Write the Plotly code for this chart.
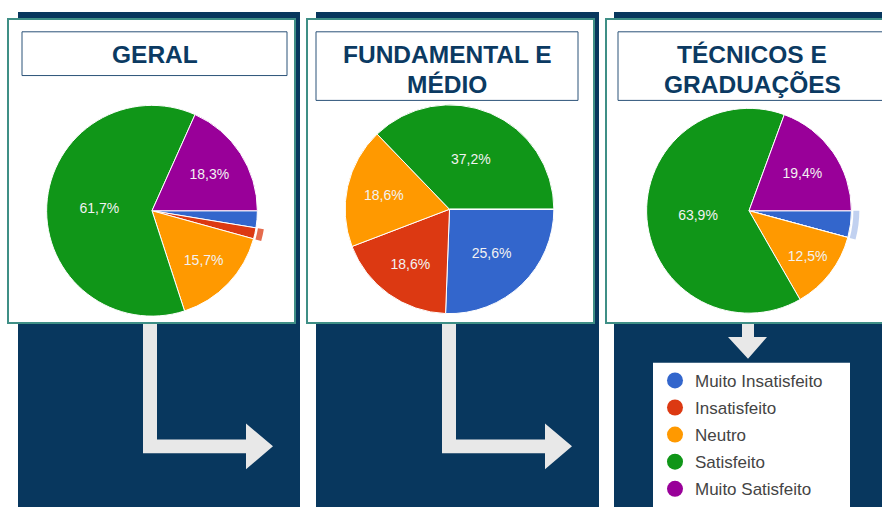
import plotly.graph_objects as go

W, H = 882, 507

categories = ["Muito Insatisfeito", "Insatisfeito", "Neutro", "Satisfeito", "Muito Satisfeito"]
colors = ["#3366cc", "#dc3912", "#ff9900", "#109618", "#990099"]

geral = [2.6, 1.7, 15.7, 61.7, 18.3]
fundamental_medio = [25.6, 18.6, 18.6, 37.2, 0.0]
tecnicos_graduacoes = [4.2, 0.0, 12.5, 63.9, 19.4]

title_lines = [["GERAL"], ["FUNDAMENTAL E", "MÉDIO"], ["TÉCNICOS E", "GRADUAÇÕES"]]

NAVY = "#08375e"
TEAL = "#3f8f86"
ARROW = "#e8e8e8"


def px(x):
    return x / W


def py(y):
    return 1 - y / H


def fmt(v):
    return (f"{v:.1f}%".replace(".", ",")) if v >= 5 else ""


def domain(cx, cy, r):
    return dict(x=[px(cx - r), px(cx + r)], y=[py(cy + r), py(cy - r)])


fig = go.Figure()

pies = [
    (geral, 152, 212, 106, 1, "rgba(220,57,18,0.75)"),
    (fundamental_medio, 449.5, 210.5, 105, None, None),
    (tecnicos_graduacoes, 749, 212, 103, 0, "rgba(51,102,204,0.3)"),
]

for vals, cx, cy, r, hl, hlcol in pies:
    fig.add_trace(go.Pie(
        labels=categories, values=vals, sort=False, direction="clockwise", rotation=90,
        marker=dict(colors=colors, line=dict(color="white", width=1)),
        text=[fmt(v) for v in vals], textinfo="text", textposition="inside",
        insidetextorientation="horizontal",
        insidetextfont=dict(family="Liberation Sans, Arial", size=14, color="#f2f2f2"),
        domain=domain(cx, cy, r), showlegend=False, hoverinfo="label+percent",
    ))
    if hl is not None:
        R = r + 8
        ring_cols = ["rgba(0,0,0,0)"] * len(vals)
        ring_cols[hl] = hlcol
        fig.add_trace(go.Pie(
            labels=categories, values=vals, sort=False, direction="clockwise", rotation=90,
            hole=(r + 2) / R, marker=dict(colors=ring_cols, line=dict(width=0)),
            textinfo="none", domain=domain(cx, cy, R), showlegend=False, hoverinfo="skip",
        ))

# legend entries
for name, col in zip(categories, colors):
    fig.add_trace(go.Scatter(
        x=[None], y=[None], mode="markers", name=name, legendgroup=name,
        marker=dict(color=col, size=16, symbol="circle"),
    ))

shapes = []


def rect(x0, y0, x1, y1, fill, line=None, lw=0):
    shapes.append(dict(type="rect", xref="paper", yref="paper",
                       x0=px(x0), x1=px(x1), y0=py(y1), y1=py(y0),
                       fillcolor=fill, line=dict(color=line or fill, width=lw),
                       layer="below"))


def path(points, fill):
    d = "M " + " L ".join(f"{px(x)},{py(y)}" for x, y in points) + " Z"
    shapes.append(dict(type="path", xref="paper", yref="paper", path=d,
                       fillcolor=fill, line=dict(width=0), layer="below"))


# navy panels
rect(18, 12, 300, 510, NAVY)
rect(316, 12, 599, 510, NAVY)
rect(614, 12, 890, 510, NAVY)

# arrows
for dx in (0, 299):
    path([(143 + dx, 324), (157 + dx, 324), (157 + dx, 442), (246 + dx, 442), (246 + dx, 426),
          (273 + dx, 449), (246 + dx, 472), (246 + dx, 456), (143 + dx, 456)], ARROW)
path([(742, 324), (754, 324), (754, 339), (767, 339), (748, 361), (728, 339), (742, 339)], ARROW)

# cards
rect(8, 19, 295, 325, "white", TEAL, 2)
rect(307, 19, 594, 325, "white", TEAL, 2)
rect(606, 19, 895, 325, "white", TEAL, 2)

# title boxes
rect(22, 32, 287, 76, "white", "#2b5278", 1)
rect(316, 32, 578, 101, "white", "#2b5278", 1)
rect(618, 32, 895, 101, "white", "#2b5278", 1)

# legend box
rect(653, 365, 850, 510, "white")

annotations = []
for lines, cx in zip(title_lines, [155, 447, 752]):
    for i, t in enumerate(lines):
        annotations.append(dict(text=f"<b>{t}</b>", x=px(cx), y=py(55 + 30 * i),
                                xref="paper", yref="paper",
                                xanchor="center", yanchor="middle", showarrow=False,
                                font=dict(family="Liberation Sans, Arial", size=24.5, color="#0b3a62")))

fig.update_layout(
    width=W, height=H, margin=dict(l=0, r=0, t=0, b=0, pad=0),
    paper_bgcolor="white", plot_bgcolor="rgba(0,0,0,0)",
    separators=",.",
    shapes=shapes, annotations=annotations,
    xaxis=dict(visible=False), yaxis=dict(visible=False),
    showlegend=True,
    legend=dict(x=px(655), y=py(365), xanchor="left", yanchor="top",
                bgcolor="rgba(0,0,0,0)", borderwidth=0, tracegroupgap=2,
                font=dict(family="Liberation Sans, Arial", size=17, color="#444444")),
)

fig.write_html("out.html")
